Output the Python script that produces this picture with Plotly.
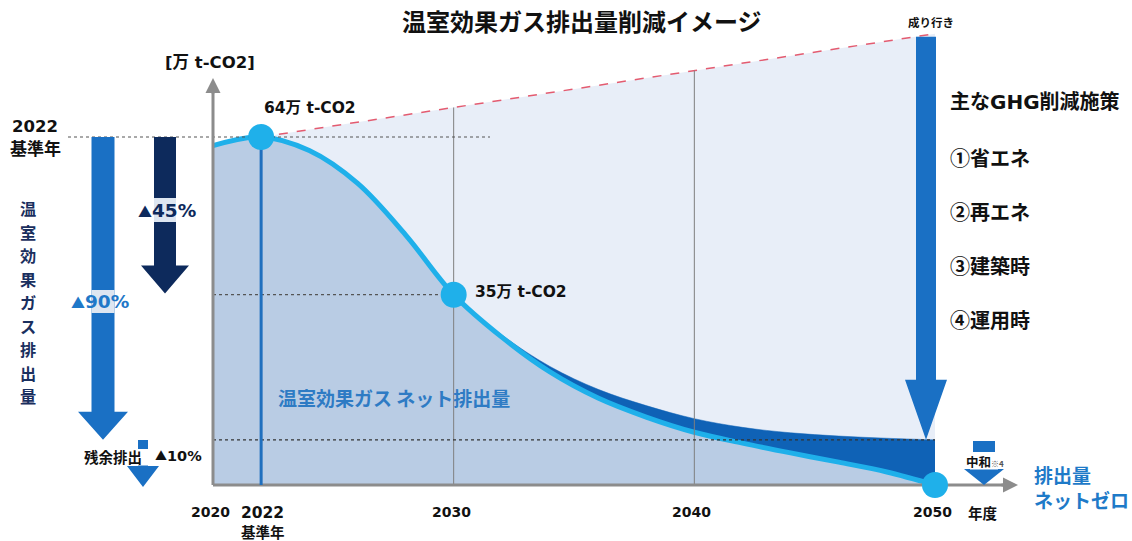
import plotly.graph_objects as go

# ---------------- data ----------------
years = [2020, 2022, 2024, 2026, 2028, 2030, 2032, 2034, 2036, 2038, 2040, 2042, 2044, 2046, 2048, 2050]
net_emissions = [62.4, 64.0, 61.5, 55.5, 46.0, 35.0, 27.2, 20.8, 16.0, 12.5, 9.7, 7.7, 5.9, 4.2, 2.4, 0.0]
gross_emissions = [62.4, 64.0, 61.5, 55.5, 46.0, 35.0, 27.6, 21.8, 17.6, 14.6, 12.2, 10.6, 9.6, 9.0, 8.6, 8.3]
bau_years = [2022, 2050]
bau_emissions = [64.0, 83.0]
key_years = [2022, 2030, 2050]
key_values = [64.0, 35.0, 0.0]
key_labels = ["64万 t-CO2", "35万 t-CO2", ""]
x_tick_years = [2020, 2030, 2040, 2050]
grid_years = [2030, 2040]
base_year = 2022
reduction_2030_pct = 45
reduction_2050_pct = 90
residual_pct = 10
measures = ["①省エネ", "②再エネ", "③建築時", "④運用時"]

# ---------------- canvas mapping ----------------
W, H = 1132, 541
X0_PX, X1_PX = 213, 935      # pixel of 2020 and 2050
Y0_PY, YB_PY = 485, 137      # pixel of 0 and base value
ppx = (X1_PX - X0_PX) / 30.0
ppy = (Y0_PY - YB_PY) / key_values[0]
xr = [2020 - X0_PX / ppx, 2020 + (W - X0_PX) / ppx]
yr = [-(H - Y0_PY) / ppy, Y0_PY / ppy]

def X(px):
    return 2020 + (px - X0_PX) / ppx

def Y(py):
    return (Y0_PY - py) / ppy

def PY(v):
    return Y0_PY - v * ppy

CJK = "Noto Sans CJK JP"
MIX = "DejaVu Sans, Noto Sans CJK JP"
FILL_NET = "#b9cce4"
FILL_BAU = "#e8eef8"
BAND = "#0f62b6"
CYAN = "#1fb0ea"
BLUE = "#1a70c4"
NAVY = "#0d2a5c"
RED = "#e35b70"
GRAY = "#8c8c8c"
TRI = "<span style='font-family:Noto Sans CJK JP;font-size:14px'>▲</span>"

def bau_at(yr_):
    t = (yr_ - bau_years[0]) / (bau_years[1] - bau_years[0])
    return bau_emissions[0] + t * (bau_emissions[1] - bau_emissions[0])

fig = go.Figure()

# BAU region
fig.add_trace(go.Scatter(x=[bau_years[0], bau_years[1], bau_years[1], bau_years[0]],
                         y=[bau_emissions[0], bau_emissions[1], 0, 0],
                         fill="toself", fillcolor=FILL_BAU, mode="lines",
                         line=dict(width=0), hoverinfo="skip"))
# gross (dark band)
fig.add_trace(go.Scatter(x=years, y=gross_emissions, fill="tozeroy", fillcolor=BAND,
                         mode="lines", line=dict(color=BAND, width=0.5, shape="spline", smoothing=1.0),
                         hoverinfo="skip"))
# net
fig.add_trace(go.Scatter(x=years, y=net_emissions, fill="tozeroy", fillcolor=FILL_NET,
                         mode="lines", line=dict(color=CYAN, width=5, shape="spline", smoothing=1.0),
                         hoverinfo="skip"))
# BAU dashed line
fig.add_trace(go.Scatter(x=bau_years, y=bau_emissions, mode="lines",
                         line=dict(color=RED, width=1.5, dash="dash"), hoverinfo="skip"))
# vertical grid lines up to BAU line
for gy in grid_years:
    fig.add_trace(go.Scatter(x=[gy, gy], y=[0, bau_at(gy)], mode="lines",
                             line=dict(color="#7f7f7f", width=1), hoverinfo="skip"))
# dotted reference lines
fig.add_trace(go.Scatter(x=[X(68), X(490)], y=[key_values[0]] * 2, mode="lines",
                         line=dict(color="#555555", width=1.2, dash="dot"), hoverinfo="skip"))
fig.add_trace(go.Scatter(x=[2020, key_years[1]], y=[key_values[1]] * 2, mode="lines",
                         line=dict(color="#555555", width=1.2, dash="dot"), hoverinfo="skip"))
fig.add_trace(go.Scatter(x=[2020, 2050], y=[gross_emissions[-1]] * 2, mode="lines",
                         line=dict(color="#333333", width=1.2, dash="dot"), hoverinfo="skip"))
# axes lines
fig.add_trace(go.Scatter(x=[2020, X(1008)], y=[0, 0], mode="lines",
                         line=dict(color=GRAY, width=3), hoverinfo="skip"))
fig.add_trace(go.Scatter(x=[2020, 2020], y=[0, Y(88)], mode="lines",
                         line=dict(color=GRAY, width=3), hoverinfo="skip"))
# base-year stem
fig.add_trace(go.Scatter(x=[base_year, base_year], y=[0, key_values[0]], mode="lines",
                         line=dict(color="#1f6fbe", width=3), hoverinfo="skip"))
# key markers
fig.add_trace(go.Scatter(x=key_years, y=key_values, mode="markers",
                         marker=dict(color=CYAN, size=26), hoverinfo="skip"))

shapes = []

def arrow(xc, ytop, ytip, w, hw, hl, color):
    pts = [(xc - w / 2, ytop), (xc + w / 2, ytop), (xc + w / 2, ytip - hl), (xc + hw / 2, ytip - hl),
           (xc, ytip), (xc - hw / 2, ytip - hl), (xc - w / 2, ytip - hl)]
    path = "M " + " L ".join(f"{X(px):.4f},{Y(py):.4f}" for px, py in pts) + " Z"
    shapes.append(dict(type="path", path=path, xref="x", yref="y", fillcolor=color,
                       line=dict(width=0), layer="above"))

def rect(x0, y0, x1, y1, color):
    shapes.append(dict(type="rect", xref="x", yref="y", x0=X(x0), x1=X(x1), y0=Y(y0), y1=Y(y1),
                       fillcolor=color, line=dict(width=0), layer="above"))

base_py = PY(key_values[0])
# 90% arrow
arrow(103, base_py, PY(gross_emissions[-1]), 23, 50, 28, BLUE)
rect(91.5, 290, 114.5, 313, "#dde6f1")
# 45% arrow
arrow(165, base_py, PY(key_values[0] * (1 - reduction_2030_pct / 100)), 22, 48, 28, NAVY)
rect(154, 198, 176, 222, "#dde6f1")
# residual small arrow (shaft interrupted by label)
arrow(143, 440, 487, 10, 32, 21, BLUE)
rect(132, 449, 154, 465.5, "white")
# BAU arrow
arrow(926, PY(bau_emissions[1]) + 3, PY(gross_emissions[-1]), 20, 42, 60, BLUE)
# neutralisation arrow (shaft interrupted by label)
arrow(984, 441, 485, 22, 40, 16, BLUE)
rect(970, 452, 998, 469.5, "white")

annotations = []

def txt(px, py, text, size, color="#111111", xanchor="center", family=CJK):
    annotations.append(dict(x=X(px), y=Y(py), xref="x", yref="y", text=f"<b>{text}</b>",
                            showarrow=False, xanchor=xanchor, yanchor="middle",
                            font=dict(family=family, size=size, color=color)))

# axis arrowheads
annotations.append(dict(x=X(1018), y=0, ax=X(1000), ay=0, xref="x", yref="y", axref="x", ayref="y",
                        text="", showarrow=True, arrowhead=2, arrowsize=1, arrowwidth=3, arrowcolor=GRAY))
annotations.append(dict(x=2020, y=Y(78), ax=2020, ay=Y(95), xref="x", yref="y", axref="x", ayref="y",
                        text="", showarrow=True, arrowhead=2, arrowsize=1, arrowwidth=3, arrowcolor=GRAY))

txt(582, 20, "温室効果ガス排出量削減イメージ", 24)
txt(210, 62, "[万 t-CO2]", 16.5, family=MIX)
txt(262, 108, key_labels[0], 15.5, xanchor="left", family=MIX)
txt(473, 292, key_labels[1], 15.5, xanchor="left", family=MIX)
txt(394, 397, "温室効果ガス ネット排出量", 19, color="#2e7bc4")
txt(35, 126, "2022", 16.5, family=MIX)
txt(35, 147, "基準年", 17)
for i, ch in enumerate("温室効果ガス排出量"):
    txt(28, 208 + 23.5 * i, ch, 16.2, color="#1a2f5e")
txt(100, 301, f"{TRI}{reduction_2050_pct}%", 18.5, color="#1f78c8", family=MIX)
txt(167, 210, f"{TRI}{reduction_2030_pct}%", 18.5, color=NAVY, family=MIX)
txt(113, 456, "残余排出", 14.5)
txt(178, 455, f"<span style='font-family:Noto Sans CJK JP;font-size:12px'>▲</span>{residual_pct}%",
    14.5, family=MIX)
txt(931, 22, "成り行き", 11.5)
txt(948, 102, "主なGHG削減施策", 20, xanchor="left", family=MIX)
for i, m in enumerate(measures):
    txt(948, 157 + 54 * i, m, 20, xanchor="left")
txt(985, 461, "中和<span style='font-size:8px;color:#555'>※4</span>", 12.5)
txt(1032, 474, "排出量", 19, color="#1e7ac8", xanchor="left")
txt(1032, 499.5, "ネットゼロ", 19, color="#1e7ac8", xanchor="left")
for ty in x_tick_years:
    annotations.append(dict(x=ty - 0.1, y=Y(512), xref="x", yref="y", text=f"<b>{ty}</b>", showarrow=False,
                            font=dict(family=MIX, size=14, color="#111111")))
annotations.append(dict(x=base_year + 0.05, y=Y(513), xref="x", yref="y", text=f"<b>{base_year}</b>",
                        showarrow=False, font=dict(family=MIX, size=15.5, color="#111111")))
txt(263, 531, "基準年", 14.5)
txt(983, 512, "年度", 14.5)

fig.update_layout(
    width=W, height=H, margin=dict(l=0, r=0, t=0, b=0),
    paper_bgcolor="white", plot_bgcolor="white", showlegend=False,
    xaxis=dict(range=xr, visible=False, fixedrange=True),
    yaxis=dict(range=yr, visible=False, fixedrange=True),
    shapes=shapes, annotations=annotations,
)

fig.write_html("out.html", config={"displayModeBar": False},
               post_script="document.body.style.margin='0';document.body.style.overflow='hidden';")
